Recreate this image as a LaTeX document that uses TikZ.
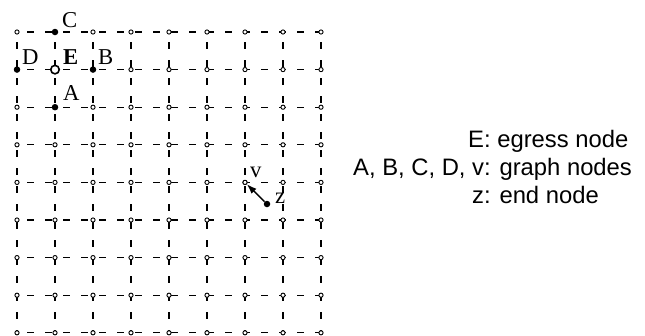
\documentclass[tikz,border=0pt]{standalone}
\usepackage{fontspec}
\setmainfont{Liberation Serif}
\newfontfamily\legendfont{Liberation Sans}
\usepackage{tikz}
\usetikzlibrary{arrows.meta}

\begin{document}
\begin{tikzpicture}[x=1pt, y=-1pt,
    gridline/.style={line width=1.3pt, dash pattern=on 6.5pt off 11.5pt, dash phase=8pt},
    gpt/.style={circle, draw, fill=white, line width=0.9pt, inner sep=0pt, minimum size=4.2pt},
    dot/.style={circle, fill, inner sep=0pt, minimum size=6.5pt},
    egress/.style={circle, draw, fill=white, line width=1.6pt, inner sep=0pt, minimum size=8.5pt},
    lab/.style={anchor=base west, inner sep=0pt, font=\fontsize{22.7}{26}\selectfont},
    legend/.style={anchor=base west, inner sep=0pt, font=\legendfont\fontsize{23.8}{28}\selectfont}]
  \useasboundingbox (0,0) rectangle (645,335);
  % grid points
  \foreach \i in {0,...,8}
    \foreach \j in {0,...,8}
      \coordinate (p\i\j) at ({17+38*\i},{32+37.6*\j});
  \foreach \k in {0,...,8} {
    \draw[gridline] (p0\k) -- (p8\k);
    \draw[gridline] (p\k0) -- (p\k8);
  }
  \foreach \i in {0,...,8}
    \foreach \j in {0,...,8}
      \node[gpt] (n\i\j) at (p\i\j) {};
  % marked nodes
  \node[dot] (C) at (p10) {};
  \node[dot] (D) at (p01) {};
  \node[dot] (B) at (p21) {};
  \node[dot] (A) at (p12) {};
  \node[egress] (E) at (p11) {};
  \node[gpt] (v) at (p64) {};
  \node[dot] (z) at (267,204) {};
  \draw[line width=1.4pt, -{Latex[length=10pt, width=7pt]}] (z) -- (v);
  % labels
  \node[lab] (labC) at (62,27) {C};
  \node[lab] (labD) at (22,64) {D};
  \node[lab] (labE) at (63,64) {\textbf{E}};
  \node[lab] (labB) at (98,64) {B};
  \node[lab] (labA) at (63,100) {A};
  \node[lab] (labv) at (250,177) {v};
  \node[lab] (labz) at (275,203) {z};
  % legend
  \node[legend] (leg1) at (468,147) {E: egress node};
  \node[legend] (leg2) at (353,175) {A, B, C, D, v: graph nodes};
  \node[legend] (leg3) at (472,203) {z: end node};
\end{tikzpicture}
\end{document}
